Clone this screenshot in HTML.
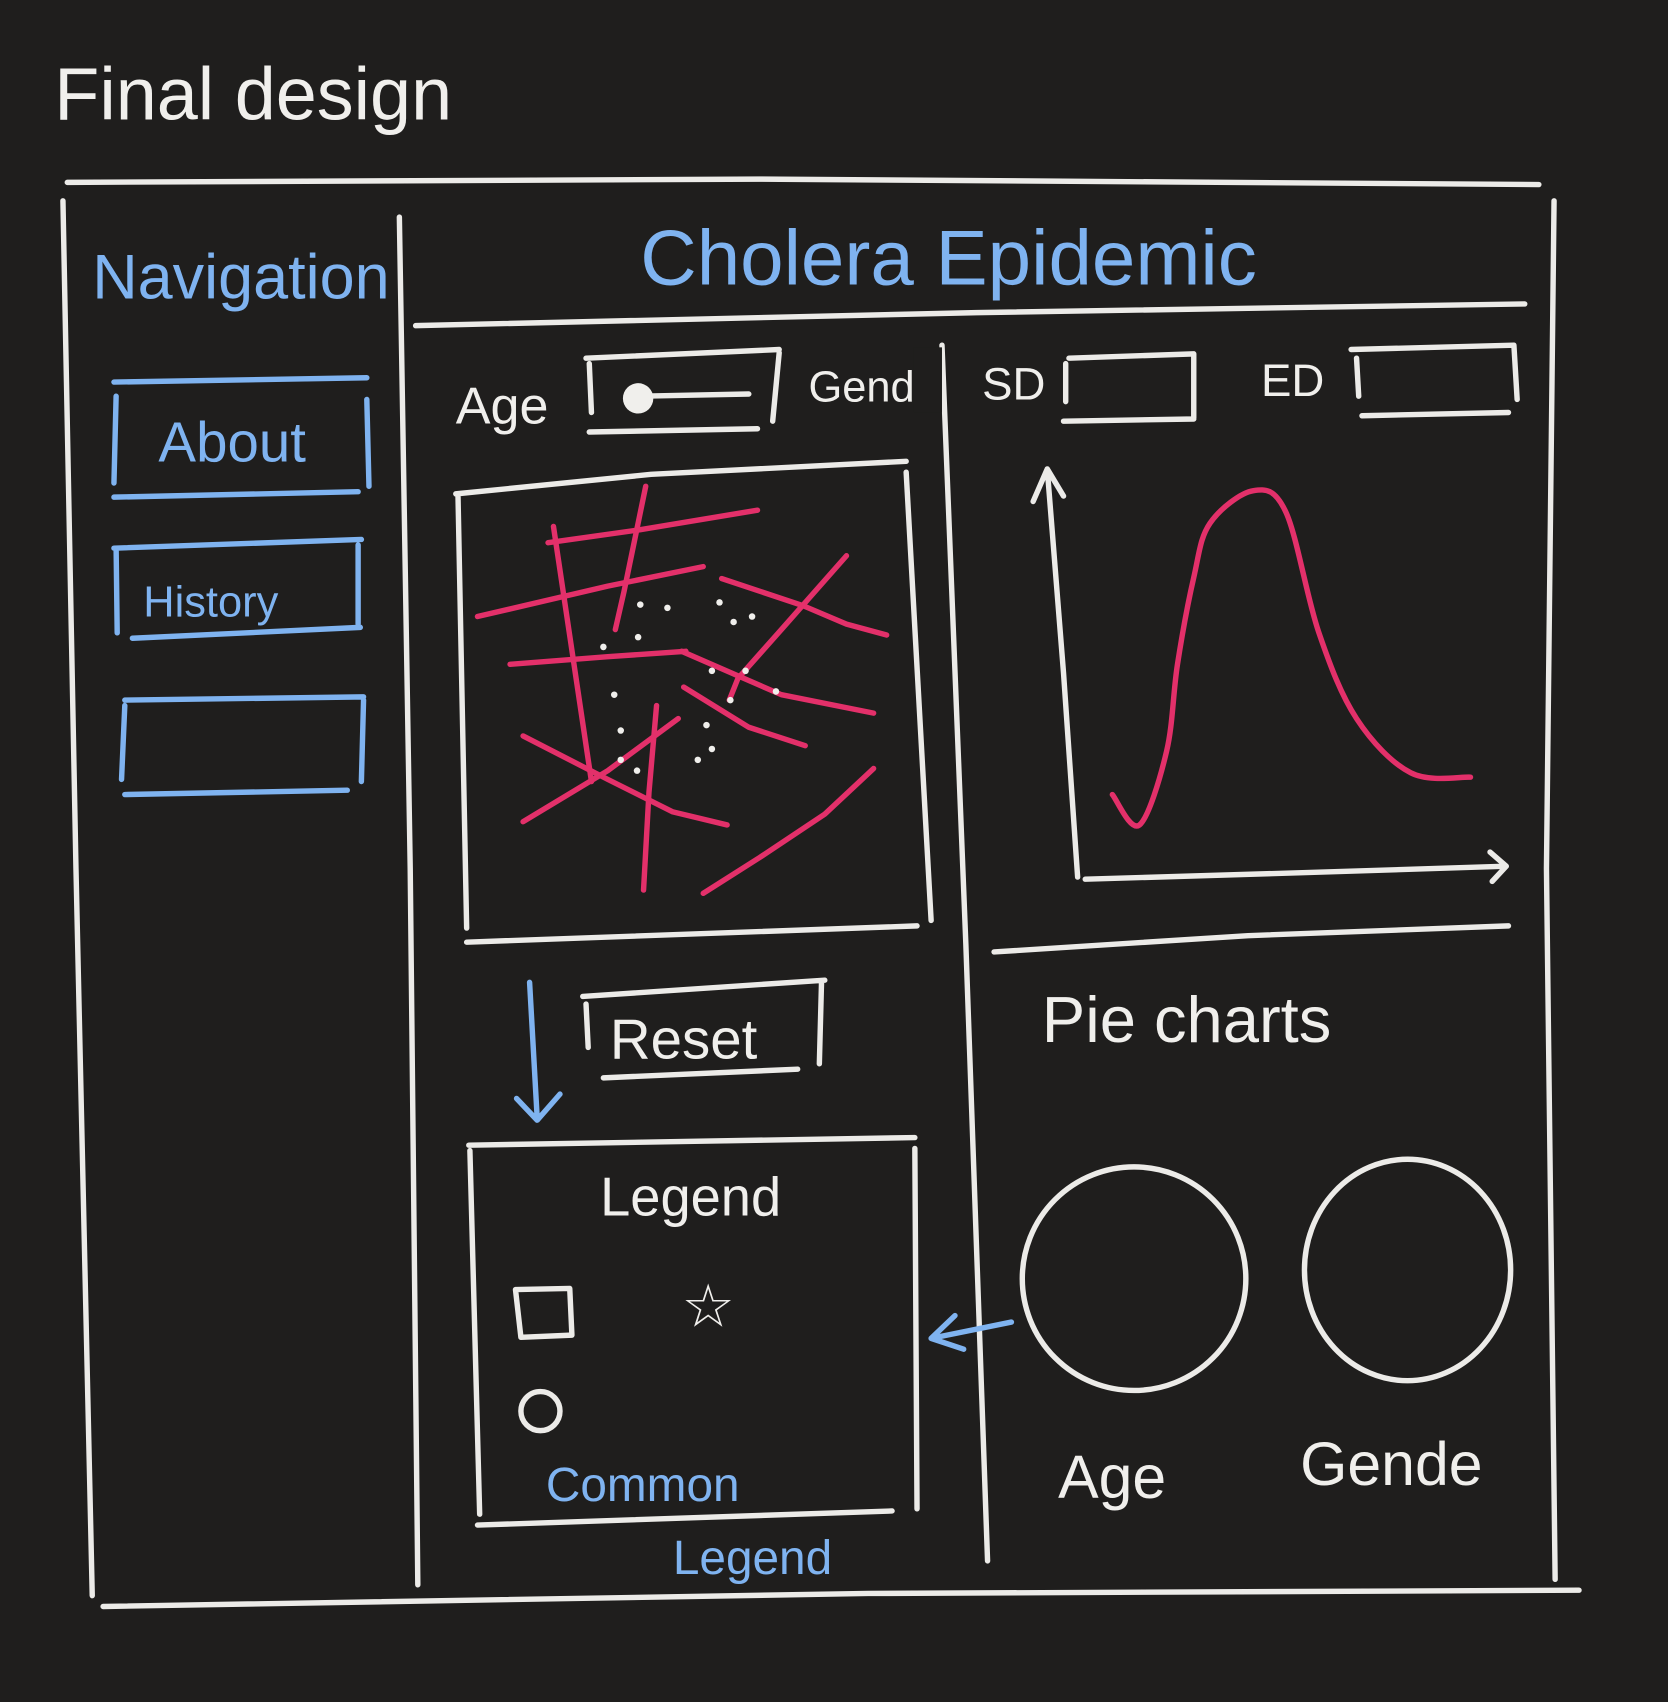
<!DOCTYPE html>
<html><head><meta charset="utf-8"><style>
html,body{margin:0;padding:0;background:#1f1e1d;}
svg{display:block}
.w{stroke:#ecebe8;stroke-width:5;fill:none;stroke-linecap:round;stroke-linejoin:round}
.b{stroke:#7fb3f0;stroke-width:5;fill:none;stroke-linecap:round;stroke-linejoin:round}
.r{stroke:#e3306a;stroke-width:5;fill:none;stroke-linecap:round;stroke-linejoin:round}
text{font-family:"Liberation Sans",sans-serif;}
.tw{fill:#f0efec}
.tb{fill:#7fb3f0}
</style></head><body>
<svg width="1668" height="1702" viewBox="0 0 1537 1568" preserveAspectRatio="none">
<text class="tw" x="50" y="110" font-size="68">Final design</text>
<g>
<path class="w" d="M62,168 L700,165 L1418,170"/>
<path class="w" d="M58,185 L70,800 L85,1470"/>
<path class="w" d="M1432,185 L1425,800 L1433,1455"/>
<path class="w" d="M95,1480 L800,1468 L1455,1465"/>
<path class="w" d="M368,200 L378,800 L385,1460"/>
<path class="w" d="M383,300 L900,288 L1405,280"/>
<path class="w" d="M868,318 L890,870 L910,1438"/>
</g>
<text class="tb" x="85" y="275" font-size="58">Navigation</text>
<g>
<path class="b" d="M105,352 L338,348 M107,365 L105,445 M338,368 L340,448 M105,458 L330,453"/>
<text class="tb" x="146" y="425" font-size="52">About</text></g>
<g>
<path class="b" d="M105,505 L333,497 M107,505 L108,583 M330,502 L330,575 M122,588 L332,578"/>
<text class="tb" x="132" y="568" font-size="40">History</text></g>
<g>
<path class="b" d="M115,645 L335,642 M115,650 L112,718 M335,645 L333,720 M115,732 L320,728"/></g>
<text class="tb" x="590" y="262" font-size="72">Cholera Epidemic</text>
<text class="tw" x="420" y="390" font-size="48">Age</text>
<g>
<path class="w" d="M540,330 L718,322 M543,335 L545,380 M718,325 L712,388 M543,398 L698,395 M590,365 L690,363"/>
<circle cx="588" cy="367" r="14" fill="#f0efec"/></g>
<text class="tw" x="745" y="370" font-size="40">Gende</text>
<rect x="842" y="320" width="26" height="60" fill="#1f1e1d"/>
<text class="tw" x="905" y="368" font-size="42">SD</text>
<path class="w" d="M985,330 L1100,326 L1100,385 M982,335 L982,370 M980,388 L1100,386"/>
<text class="tw" x="1162" y="365" font-size="42">ED</text>
<path class="w" d="M1245,322 L1395,318 L1398,368 M1250,330 L1252,365 M1255,383 L1390,380"/>
<g>
<path class="w" d="M420,455 L600,437 L835,425 M422,455 L430,855 M835,435 L858,848 M430,868 L845,853"/>
<path class="r" d="M510,485 L545,720"/>
<path class="r" d="M505,500 L590,488 L698,470"/>
<path class="r" d="M595,448 L575,545 L567,580"/>
<path class="r" d="M440,568 L560,540 L648,522"/>
<path class="r" d="M470,612 L560,605 L632,600"/>
<path class="r" d="M665,533 L740,558 L780,575 L817,585"/>
<path class="r" d="M780,512 L720,580 L680,625 L672,645"/>
<path class="r" d="M628,600 L720,640 L805,657"/>
<path class="r" d="M630,633 L690,670 L742,687"/>
<path class="r" d="M482,678 L560,718 L620,748 L670,760"/>
<path class="r" d="M605,650 L598,730 L593,820"/>
<path class="r" d="M482,757 L560,710 L625,662"/>
<path class="r" d="M648,823 L700,790 L760,750 L805,708"/>
<g fill="#f0efec"><circle cx="590" cy="557" r="3"/><circle cx="615" cy="560" r="3"/><circle cx="663" cy="555" r="3"/><circle cx="693" cy="568" r="3"/><circle cx="676" cy="573" r="3"/><circle cx="588" cy="587" r="3"/><circle cx="556" cy="596" r="3"/><circle cx="656" cy="618" r="3"/><circle cx="687" cy="618" r="3"/><circle cx="566" cy="640" r="3"/><circle cx="715" cy="637" r="3"/><circle cx="572" cy="673" r="3"/><circle cx="651" cy="668" r="3"/><circle cx="656" cy="690" r="3"/><circle cx="643" cy="700" r="3"/><circle cx="572" cy="700" r="3"/><circle cx="587" cy="710" r="3"/><circle cx="673" cy="645" r="3"/></g>
</g>
<g>
<path class="w" d="M965,432 L980,620 L993,808 M952,462 L965,432 L980,457"/>
<path class="w" d="M1000,810 L1200,804 L1388,798 M1373,785 L1388,798 L1375,812"/>
<path id="curve" class="r"/>
</g>
<path class="w" d="M916,877 L1150,862 L1390,853"/>
<text class="tw" x="960" y="960" font-size="60">Pie charts</text>
<g>
<path class="w" d="M537,918 L760,903 M540,925 L542,965 M757,905 L755,980 M556,993 L735,985"/>
<text class="tw" x="562" y="975" font-size="52">Reset</text></g>
<path class="b" d="M488,905 L495,1030 M476,1012 L495,1032 L516,1008"/>
<g>
<path class="w" d="M432,1055 L843,1048 M433,1060 L442,1395 M843,1058 L845,1390 M440,1405 L822,1392"/>
<text class="tw" x="553" y="1120" font-size="50">Legend</text>
<path class="w" d="M475,1188 L525,1187 L527,1230 L480,1232 Z"/>
<text class="tw" x="628" y="1222" font-size="55">☆</text>
<circle class="w" cx="498" cy="1300" r="18"/>
<text class="tb" x="503" y="1383" font-size="44">Common</text>
<text class="tb" x="620" y="1450" font-size="44">Legend</text>
</g>
<path class="b" d="M932,1218 L858,1233 M880,1212 L858,1233 L888,1243"/>
<circle class="w" cx="1045" cy="1178" r="103"/>
<ellipse class="w" cx="1297" cy="1170" rx="95" ry="102"/>
<text class="tw" x="975" y="1380" font-size="56">Age</text>
<text class="tw" x="1198" y="1368" font-size="56">Gende</text>
</svg>
<script>
const xValues=[0,1,2,2.4,3,3.6,5.2,6.4,7.6,9,11,13.2];
const yValues=[0.2,0.06,0.4,0.8,1.2,1.45,1.6,1.5,0.95,0.55,0.3,0.28];
function sx(v){return 1025+v*25;}
function sy(v){return 772-v*200;}
const pts=xValues.map((v,i)=>[sx(v),sy(yValues[i])]);
let d='M'+pts[0][0]+','+pts[0][1];
for(let i=0;i<pts.length-1;i++){
  const p0=pts[Math.max(0,i-1)],p1=pts[i],p2=pts[i+1],p3=pts[Math.min(pts.length-1,i+2)];
  const c1x=p1[0]+(p2[0]-p0[0])/6,c1y=p1[1]+(p2[1]-p0[1])/6;
  const c2x=p2[0]-(p3[0]-p1[0])/6,c2y=p2[1]-(p3[1]-p1[1])/6;
  d+=' C'+c1x+','+c1y+' '+c2x+','+c2y+' '+p2[0]+','+p2[1];
}
document.getElementById('curve').setAttribute('d',d);
</script>
</body></html>
